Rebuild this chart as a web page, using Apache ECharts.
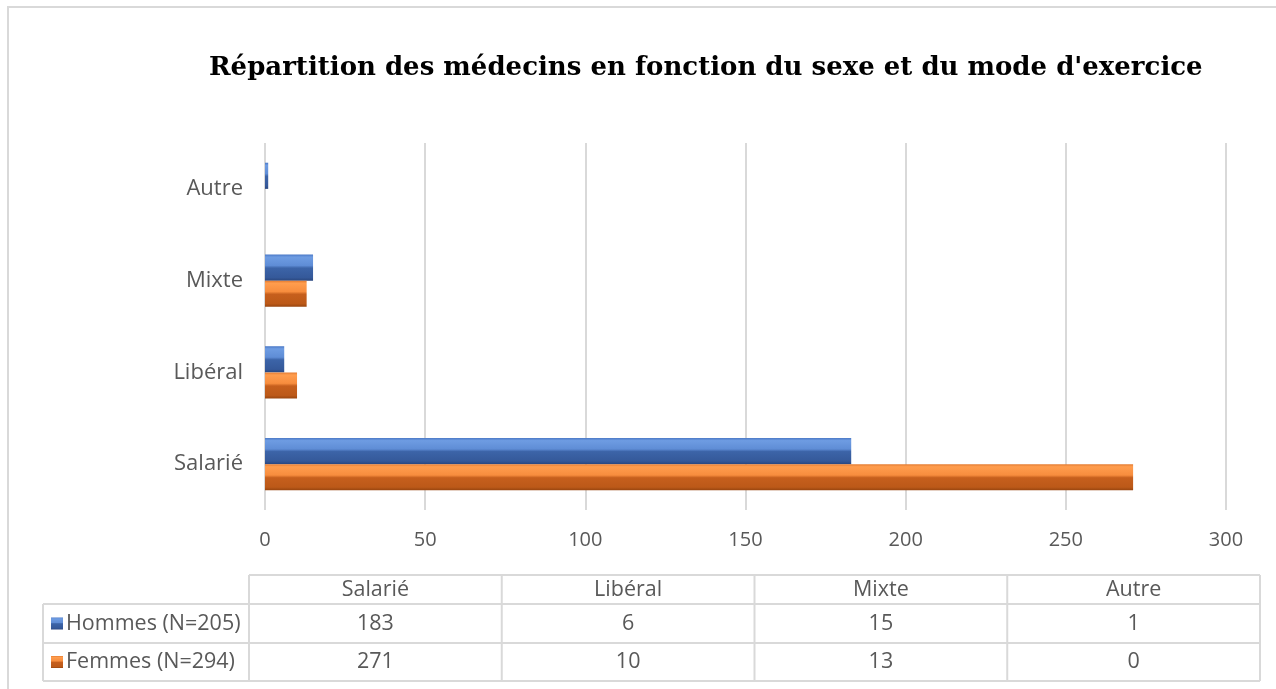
<!DOCTYPE html>
<html>
    <head>
        <meta charset="utf-8">
        <title></title>
        <style>
            body{ margin: 0; background: #fff; }
            #div{ width: 1276px; height: 689px; }
        </style>
    </head>
    <body>
        <div id="div"></div>
        <script src="https://cdn.jsdelivr.net/npm/echarts@6/dist/echarts.min.js"></script>
        <script>
            // données
            var categories = ['Salarié', 'Libéral', 'Mixte', 'Autre'];
            var hommes = [183, 6, 15, 1];
            var femmes = [271, 10, 13, 0];
            var seriesNames = ['Hommes (N=205)', 'Femmes (N=294)'];

            var txt = '#595959';
            var line = '#d9d9d9';
            var font = 'Open Sans';
            var tfont = '21.5px "' + font + '"';

            var blue = new echarts.graphic.LinearGradient(0, 0, 0, 1, [
                {offset: 0, color: '#4a78c6'},
                {offset: 0.1, color: '#6e9ce2'},
                {offset: 0.42, color: '#5f8dd6'},
                {offset: 0.52, color: '#3c64a8'},
                {offset: 0.88, color: '#35599a'},
                {offset: 1, color: '#2a4780'}
            ]);
            var orange = new echarts.graphic.LinearGradient(0, 0, 0, 1, [
                {offset: 0, color: '#e27a30'},
                {offset: 0.1, color: '#ff9d4e'},
                {offset: 0.42, color: '#f78d3e'},
                {offset: 0.52, color: '#c65f1d'},
                {offset: 0.88, color: '#bc5918'},
                {offset: 1, color: '#98450f'}
            ]);
            var colors = [blue, orange];
            var values = [hommes, femmes];

            // tableau de données sous le graphique
            var colX = 249, colW = 252.75, legX = 43;
            var rowY = [575, 604, 643, 681];
            var right = colX + colW * categories.length;
            var g = [];
            g.push({type: 'rect', shape: {x: 8, y: 7, width: 1280, height: 700},
                style: {fill: 'none', stroke: line, lineWidth: 2}, silent: true});
            g.push({type: 'line', shape: {x1: colX, y1: rowY[0], x2: right, y2: rowY[0]}, style: {stroke: line, lineWidth: 2}});
            for (var r = 1; r < rowY.length; r++) {
                g.push({type: 'line', shape: {x1: legX, y1: rowY[r], x2: right, y2: rowY[r]}, style: {stroke: line, lineWidth: 2}});
            }
            g.push({type: 'line', shape: {x1: legX, y1: rowY[1], x2: legX, y2: rowY[3]}, style: {stroke: line, lineWidth: 2}});
            for (var c = 0; c <= categories.length; c++) {
                g.push({type: 'line', shape: {x1: colX + c * colW, y1: rowY[0], x2: colX + c * colW, y2: rowY[3]}, style: {stroke: line, lineWidth: 2}});
            }
            for (var c = 0; c < categories.length; c++) {
                var cx = colX + c * colW + colW / 2;
                g.push({type: 'text', x: cx, y: (rowY[0] + rowY[1]) / 2,
                    style: {text: categories[c], fill: txt, font: tfont, align: 'center', verticalAlign: 'middle'}});
                for (var s = 0; s < values.length; s++) {
                    g.push({type: 'text', x: cx, y: (rowY[s + 1] + rowY[s + 2]) / 2,
                        style: {text: String(values[s][c]), fill: txt, font: tfont, align: 'center', verticalAlign: 'middle'}});
                }
            }
            for (var s = 0; s < seriesNames.length; s++) {
                var cy = (rowY[s + 1] + rowY[s + 2]) / 2;
                g.push({type: 'rect', shape: {x: 51, y: cy - 6, width: 12, height: 12}, style: {fill: colors[s]}});
                g.push({type: 'text', x: 66, y: cy,
                    style: {text: seriesNames[s], fill: txt, font: tfont, align: 'left', verticalAlign: 'middle'}});
            }

            var chartDom = document.getElementById('div');
            var myChart = echarts.init(chartDom);
            var option;

            option = {
                animation: false,
                title: {
                    text: "Répartition des médecins en fonction du sexe et du mode d'exercice",
                    left: 204,
                    top: 50,
                    textStyle: {fontFamily: 'DejaVu Serif', fontWeight: 'bold', fontSize: 26, color: '#000'}
                },
                grid: {left: 265, right: 50, top: 143, height: 367},
                xAxis: {
                    type: 'value',
                    min: 0,
                    max: 300,
                    interval: 50,
                    axisLine: {show: false},
                    axisTick: {show: false},
                    axisLabel: {color: txt, fontSize: 20, fontFamily: font, margin: 20},
                    splitLine: {lineStyle: {color: line, width: 2}}
                },
                yAxis: {
                    type: 'category',
                    data: categories,
                    axisLine: {show: false},
                    axisTick: {show: false},
                    axisLabel: {color: txt, fontSize: 22, fontFamily: font, margin: 22}
                },
                series: [
                    {name: seriesNames[0], type: 'bar', data: hommes, barGap: '0%', barCategoryGap: '43%',
                        itemStyle: {color: blue}},
                    {name: seriesNames[1], type: 'bar', data: femmes, barGap: '0%', barCategoryGap: '43%',
                        itemStyle: {color: orange}}
                ],
                graphic: g
            };

            option && myChart.setOption(option);
        </script>
    </body>
</html>
